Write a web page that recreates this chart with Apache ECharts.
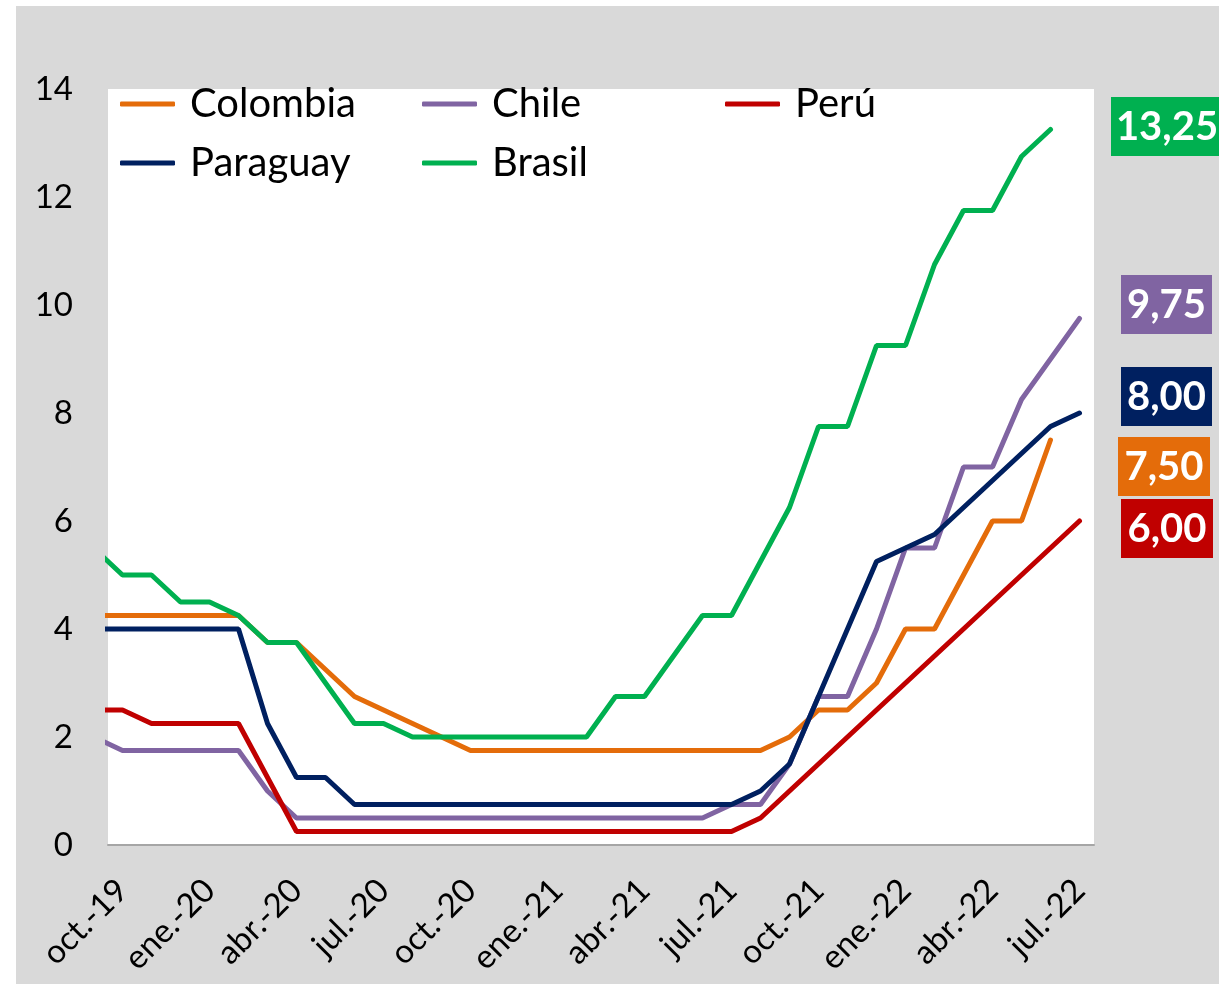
<!DOCTYPE html>
<html>
<head>
<meta charset="utf-8">
<script src="https://cdn.jsdelivr.net/npm/echarts@6/dist/echarts.min.js"></script>
<style>
  html, body { margin: 0; padding: 0; background: #fff; }
  #chart { position: absolute; left: 16px; top: 6px; width: 1203px; height: 978px; }
</style>
</head>
<body>
<div id="chart"></div>
<script>
// meses (fin de mes), desde sep.-19 hasta jul.-22
const months = ['sep.-19', 'oct.-19', 'nov.-19', 'dic.-19', 'ene.-20', 'feb.-20', 'mar.-20', 'abr.-20', 'may.-20', 'jun.-20',
  'jul.-20', 'ago.-20', 'sep.-20', 'oct.-20', 'nov.-20', 'dic.-20', 'ene.-21', 'feb.-21', 'mar.-21', 'abr.-21',
  'may.-21', 'jun.-21', 'jul.-21', 'ago.-21', 'sep.-21', 'oct.-21', 'nov.-21', 'dic.-21', 'ene.-22', 'feb.-22',
  'mar.-22', 'abr.-22', 'may.-22', 'jun.-22', 'jul.-22']
const tickLabels = ['oct.-19', 'ene.-20', 'abr.-20', 'jul.-20', 'oct.-20', 'ene.-21', 'abr.-21', 'jul.-21', 'oct.-21', 'ene.-22', 'abr.-22', 'jul.-22']
const yTicks = [0, 2, 4, 6, 8, 10, 12, 14]

const colombia = [4.25, 4.25, 4.25, 4.25, 4.25, 4.25, 3.75, 3.75, 3.25, 2.75,
  2.5, 2.25, 2.0, 1.75, 1.75, 1.75, 1.75, 1.75, 1.75, 1.75,
  1.75, 1.75, 1.75, 1.75, 2.0, 2.5, 2.5, 3.0, 4.0, 4.0,
  5.0, 6.0, 6.0, 7.5, null]
const chile = [2.0, 1.75, 1.75, 1.75, 1.75, 1.75, 1.0, 0.5, 0.5, 0.5,
  0.5, 0.5, 0.5, 0.5, 0.5, 0.5, 0.5, 0.5, 0.5, 0.5,
  0.5, 0.5, 0.75, 0.75, 1.5, 2.75, 2.75, 4.0, 5.5, 5.5,
  7.0, 7.0, 8.25, 9.0, 9.75]
const peru = [2.5, 2.5, 2.25, 2.25, 2.25, 2.25, 1.25, 0.25, 0.25, 0.25,
  0.25, 0.25, 0.25, 0.25, 0.25, 0.25, 0.25, 0.25, 0.25, 0.25,
  0.25, 0.25, 0.25, 0.5, 1.0, 1.5, 2.0, 2.5, 3.0, 3.5,
  4.0, 4.5, 5.0, 5.5, 6.0]
const paraguay = [4.0, 4.0, 4.0, 4.0, 4.0, 4.0, 2.25, 1.25, 1.25, 0.75,
  0.75, 0.75, 0.75, 0.75, 0.75, 0.75, 0.75, 0.75, 0.75, 0.75,
  0.75, 0.75, 0.75, 1.0, 1.5, 2.75, 4.0, 5.25, 5.5, 5.75,
  6.25, 6.75, 7.25, 7.75, 8.0]
const brasil = [5.5, 5.0, 5.0, 4.5, 4.5, 4.25, 3.75, 3.75, 3.0, 2.25,
  2.25, 2.0, 2.0, 2.0, 2.0, 2.0, 2.0, 2.0, 2.75, 2.75,
  3.5, 4.25, 4.25, 5.25, 6.25, 7.75, 7.75, 9.25, 9.25, 10.75,
  11.75, 11.75, 12.75, 13.25, null]

const countries = [
  { name: 'Colombia', data: colombia, color: '#E46C0A' },
  { name: 'Chile', data: chile, color: '#8064A2' },
  { name: 'Perú', data: peru, color: '#C00000' },
  { name: 'Paraguay', data: paraguay, color: '#002060' },
  { name: 'Brasil', data: brasil, color: '#00B050' },
]

const FONT = 'Lato, "Open Sans", sans-serif'
const chart = echarts.init(document.getElementById('chart'))

// posiciones de la leyenda (2 filas x 3 columnas)
const legendPos = {
  Colombia: [104, 76], Chile: [406, 76], 'Perú': [709, 76],
  Paraguay: [104, 135], Brasil: [406, 135],
}

// cajas con el último valor, a la derecha
const boxes = [
  { name: 'Brasil', x: 1095, y: 91, w: 112 },
  { name: 'Chile', x: 1105, y: 269, w: 91 },
  { name: 'Paraguay', x: 1105, y: 361, w: 91 },
  { name: 'Colombia', x: 1102, y: 431, w: 92 },
  { name: 'Perú', x: 1105, y: 493, w: 92 },
]

const lastValue = arr => arr.filter(v => v !== null).slice(-1)[0]

const graphic = boxes.map(b => {
  const c = countries.find(k => k.name === b.name)
  return {
    type: 'group',
    left: b.x,
    top: b.y,
    children: [
      { type: 'rect', shape: { x: 0, y: 0, width: b.w, height: 59 }, style: { fill: c.color } },
      {
        type: 'text',
        x: b.w / 2,
        y: 30,
        style: {
          text: lastValue(c.data).toFixed(2).replace('.', ','),
          fill: '#fff',
          font: 'bold 40px ' + FONT,
          align: 'center',
          verticalAlign: 'middle',
        },
      },
    ],
  }
})

const option = {
  backgroundColor: '#D9D9D9',
  animation: false,
  grid: {
    left: 92,
    top: 83,
    right: 125,
    bottom: 139,
    show: true,
    backgroundColor: '#fff',
    borderWidth: 0,
  },
  legend: countries.map(c => ({
    data: [c.name],
    left: legendPos[c.name][0],
    top: legendPos[c.name][1],
    padding: 0,
    icon: 'roundRect',
    itemWidth: 55,
    itemHeight: 5,
    textStyle: { fontSize: 40, fontFamily: FONT, color: '#000', padding: [0, 0, 0, 10], lineHeight: 44 },
  })),
  xAxis: {
    type: 'value',
    min: 0.5,
    max: 34.5,
    splitLine: { show: false },
    axisTick: { show: false },
    axisLine: { lineStyle: { color: '#A6A6A6', width: 2 } },
    axisLabel: {
      customValues: tickLabels.map(l => months.indexOf(l)),
      formatter: v => months[v],
      rotate: 45,
      margin: 40,
      fontSize: 33,
      fontFamily: FONT,
      color: '#000',
    },
  },
  yAxis: {
    type: 'value',
    min: yTicks[0],
    max: yTicks[yTicks.length - 1],
    interval: 2,
    splitLine: { show: false },
    axisLine: { show: false },
    axisTick: { show: false },
    axisLabel: { fontSize: 33, fontFamily: FONT, color: '#000', margin: 35 },
  },
  series: countries.map(c => ({
    name: c.name,
    type: 'line',
    data: c.data.map((v, i) => [i, v]),
    showSymbol: false,
    symbol: 'none',
    color: c.color,
    lineStyle: { width: 5, color: c.color, cap: 'round' },
  })),
  graphic,
}

chart.setOption(option)
</script>
</body>
</html>
